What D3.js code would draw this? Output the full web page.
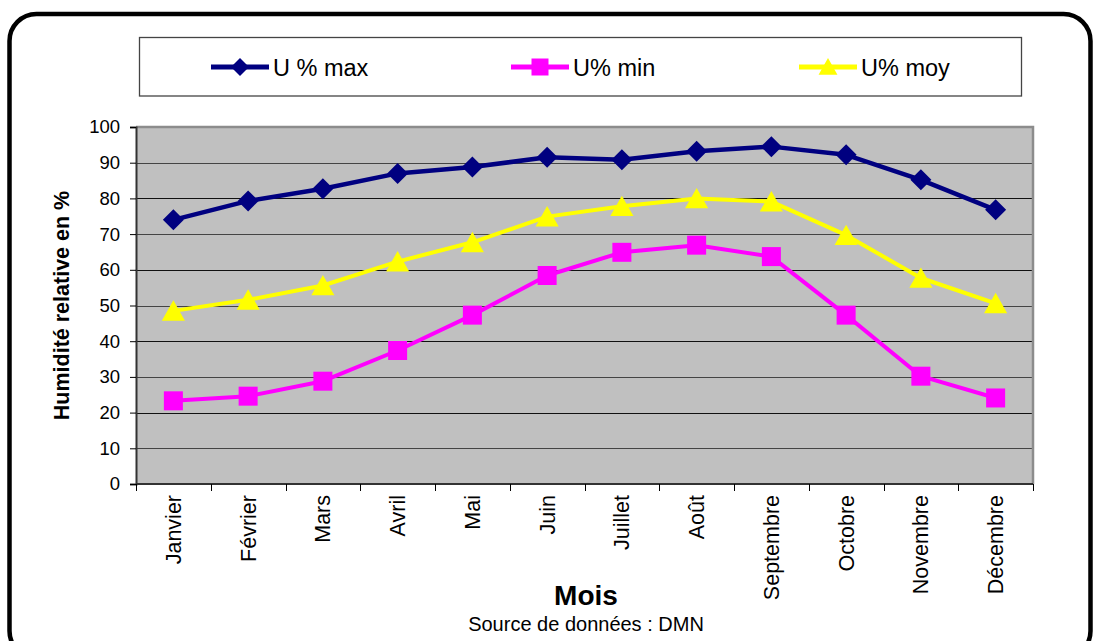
<!DOCTYPE html>
<html>
<head>
<meta charset="utf-8">
<script src="https://cdn.jsdelivr.net/npm/d3@7"></script>
<style>
  html, body { margin: 0; padding: 0; background: #fff; }
  svg { display: block; font-family: Arial, "Liberation Sans", sans-serif; }
</style>
</head>
<body>
<svg id="chart" width="1099" height="641"></svg>
<script>
// Monthly relative humidity (%)
const months = ["Janvier", "Février", "Mars", "Avril", "Mai", "Juin", "Juillet", "Août", "Septembre", "Octobre", "Novembre", "Décembre"];
const uMax = [74, 79.3, 82.7, 87, 88.8, 91.5, 90.8, 93.2, 94.5, 92.2, 85.2, 76.8];
const uMin = [23.3, 24.6, 28.8, 37.4, 47.3, 58.4, 64.9, 66.9, 63.7, 47.3, 30.2, 24.1];
const uMoy = [48.5, 51.6, 55.6, 62.3, 67.7, 74.9, 77.8, 80, 79.1, 69.7, 57.7, 50.6];
const yTicks = [0, 10, 20, 30, 40, 50, 60, 70, 80, 90, 100];

const series = [
  { name: "U % max", values: uMax, color: "#000080", symbol: "diamond", width: 4.5 },
  { name: "U% min", values: uMin, color: "#FF00FF", symbol: "square", width: 4 },
  { name: "U% moy", values: uMoy, color: "#FFFF00", symbol: "triangle", width: 4 }
];

const svg = d3.select("#chart");

// Outer rounded frame
svg.append("rect")
  .attr("x", 9.5).attr("y", 14)
  .attr("width", 1081).attr("height", 644)
  .attr("rx", 27).attr("ry", 27)
  .attr("fill", "#fff").attr("stroke", "#000").attr("stroke-width", 4.5);

const plot = { left: 136, right: 1033, top: 127, bottom: 484 };

const x = d3.scaleBand().domain(months).range([plot.left, plot.right]).paddingInner(0).paddingOuter(0);
const y = d3.scaleLinear().domain([0, 100]).range([plot.bottom, plot.top]);

// Plot background
svg.append("rect")
  .attr("x", plot.left).attr("y", plot.top)
  .attr("width", plot.right - plot.left).attr("height", plot.bottom - plot.top)
  .attr("fill", "#C0C0C0");

// Horizontal gridlines
svg.append("g")
  .selectAll("line")
  .data(yTicks.filter(t => t > 0 && t < 100))
  .join("line")
  .attr("x1", plot.left).attr("x2", plot.right)
  .attr("y1", d => Math.round(y(d)) + 0.5).attr("y2", d => Math.round(y(d)) + 0.5)
  .attr("stroke", (d, i) => i % 2 ? "#111" : "#444").attr("stroke-width", 1.2);

// Plot border (top and right)
svg.append("path")
  .attr("d", `M${plot.left},${plot.top}H${plot.right}V${plot.bottom}`)
  .attr("fill", "none").attr("stroke", "#8c8c8c").attr("stroke-width", 2.5);

// Y axis
const yAxis = svg.append("g")
  .attr("transform", `translate(${plot.left},0)`)
  .call(d3.axisLeft(y).tickValues(yTicks).tickSize(6).tickPadding(10).tickFormat(d3.format("d")));
yAxis.select(".domain").attr("stroke", "#333").attr("stroke-width", 2);
yAxis.selectAll(".tick line").attr("stroke", "#000");
yAxis.selectAll(".tick text")
  .attr("font-size", 18.5).attr("fill", "#000")
  .attr("font-family", "Arial, 'Liberation Sans', sans-serif");

// X axis: ticks at category boundaries
const xAxisG = svg.append("g").attr("transform", `translate(0,${plot.bottom})`);
xAxisG.append("line")
  .attr("x1", plot.left).attr("x2", plot.right)
  .attr("y1", 0).attr("y2", 0)
  .attr("stroke", "#333").attr("stroke-width", 2);
const boundaries = months.map(m => x(m)).concat([plot.right]);
xAxisG.selectAll("line.tick")
  .data(boundaries)
  .join("line").attr("class", "tick")
  .attr("x1", d => Math.round(d) + 0.5).attr("x2", d => Math.round(d) + 0.5)
  .attr("y1", 0).attr("y2", 7)
  .attr("stroke", "#000");
xAxisG.selectAll("text")
  .data(months)
  .join("text")
  .attr("transform", d => `translate(${x(d) + x.bandwidth() / 2 + 7.5},${11}) rotate(-90)`)
  .attr("text-anchor", "end")
  .attr("font-size", 21.5)
  .attr("fill", "#000")
  .text(d => d);

// Marker shapes
function markerPath(symbol, s) {
  if (symbol === "diamond") return `M0,${-s}L${s},0L0,${s}L${-s},0Z`;
  if (symbol === "square") return `M${-s},${-s}H${s}V${s}H${-s}Z`;
  return `M0,${-s}L${s * 1.05},${s * 0.85}H${-s * 1.05}Z`;
}

const line = d3.line()
  .x((d, i) => x(months[i]) + x.bandwidth() / 2)
  .y(d => y(d));

series.forEach(s => {
  const g = svg.append("g");
  g.append("path")
    .attr("d", line(s.values))
    .attr("fill", "none").attr("stroke", s.color)
    .attr("stroke-width", s.width).attr("stroke-linejoin", "round");
  g.selectAll("path.mk")
    .data(s.values)
    .join("path").attr("class", "mk")
    .attr("transform", (d, i) => `translate(${x(months[i]) + x.bandwidth() / 2},${y(d) + (s.symbol === "triangle" ? 0.5 : 0)})`)
    .attr("d", markerPath(s.symbol, s.symbol === "diamond" ? 10.5 : (s.symbol === "square" ? 9.5 : 11)))
    .attr("fill", s.color);
});

// Legend
svg.append("rect")
  .attr("x", 139.5).attr("y", 37.5).attr("width", 882).attr("height", 58.5)
  .attr("fill", "#fff").attr("stroke", "#444").attr("stroke-width", 1.3);
const legendX = [240, 540, 828];
const legendY = 67;
series.forEach((s, i) => {
  const g = svg.append("g").attr("transform", `translate(${legendX[i]},${legendY})`);
  g.append("line").attr("x1", -29).attr("x2", 29).attr("y1", 0).attr("y2", 0)
    .attr("stroke", s.color).attr("stroke-width", 5);
  g.append("path")
    .attr("d", markerPath(s.symbol, s.symbol === "square" ? 8.5 : 9))
    .attr("fill", s.color);
  g.append("text")
    .attr("x", 33).attr("y", 8.5)
    .attr("font-size", 23.5).attr("fill", "#000")
    .text(s.name);
});

// Axis titles
svg.append("text")
  .attr("transform", `translate(69,${(plot.top + plot.bottom) / 2}) rotate(-90)`)
  .attr("text-anchor", "middle")
  .attr("font-size", 21.5).attr("font-weight", "bold").attr("fill", "#000")
  .text("Humidité relative en %");

svg.append("text")
  .attr("x", 586).attr("y", 605)
  .attr("text-anchor", "middle")
  .attr("font-size", 28).attr("font-weight", "bold").attr("fill", "#000")
  .text("Mois");

svg.append("text")
  .attr("x", 586).attr("y", 631)
  .attr("text-anchor", "middle")
  .attr("font-size", 20).attr("fill", "#000")
  .text("Source de données : DMN");
</script>
</body>
</html>
